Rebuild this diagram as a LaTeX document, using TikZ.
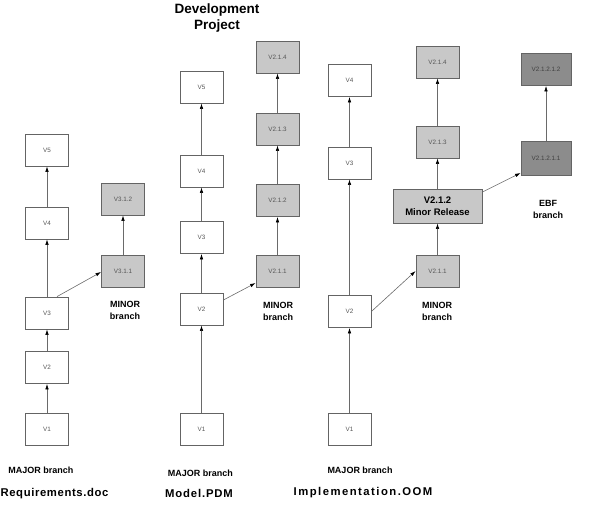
\documentclass[tikz,border=0pt]{standalone}
\usepackage{fontspec}
\setmainfont{Liberation Sans}
\newfontfamily\freq[LetterSpace=5.5]{Liberation Sans}
\newfontfamily\fmodel[LetterSpace=7.5]{Liberation Sans}
\newfontfamily\fimpl[LetterSpace=13]{Liberation Sans}
\usetikzlibrary{arrows.meta}
\definecolor{boxline}{HTML}{646464}
\definecolor{boxtext}{HTML}{555555}
\definecolor{minorfill}{HTML}{C8C8C8}
\definecolor{ebffill}{HTML}{8C8C8C}
\definecolor{linecol}{HTML}{6A6A6A}
\tikzset{
  box/.style={draw=boxline, line width=0.8pt, fill=white, minimum width=43pt, minimum height=32pt, inner sep=0pt, font=\fontsize{6.3}{7}\selectfont, text=boxtext},
  minorbox/.style={box, fill=minorfill},
  ebfbox/.style={box, fill=ebffill, minimum width=50pt, text=black!75},
  relbox/.style={box, fill=minorfill, minimum width=89pt, minimum height=34pt, font=\bfseries\fontsize{9.5}{12.5}\selectfont, text=black, align=center},
  conn/.style={draw=linecol, line width=0.6pt, -{Latex[length=5.5pt,width=3.5pt,color=black]}},
  blabel/.style={font=\bfseries\fontsize{9}{12}\selectfont, align=center, inner sep=0pt},
  flabel/.style={font=\bfseries\fontsize{11.3}{13}\selectfont, inner sep=0pt},
}
\begin{document}
\begin{tikzpicture}[x=1pt,y=-1pt]
\useasboundingbox (0,0) rectangle (591,512);
% title
\node[font=\bfseries\fontsize{13.5}{16}\selectfont, align=center, inner sep=0pt] (title) at (217,18.5) {Development\\Project};
% column 1
\node[box] (a1) at (47,429.5) {V1};
\node[box] (a2) at (47,367.5) {V2};
\node[box] (a3) at (47,313) {V3};
\node[box] (a4) at (47,223) {V4};
\node[box] (a5) at (47,150) {V5};
\node[minorbox] (a31) at (123,271) {V3.1.1};
\node[minorbox] (a32) at (123,199) {V3.1.2};
\draw[conn] (a1) -- (a2);
\draw[conn] (a2) -- (a3);
\draw[conn] (a3) -- (a4);
\draw[conn] (a4) -- (a5);
\draw[conn] ([xshift=10pt]a3.north) -- ([yshift=-1pt]a31.west);
\draw[conn] (a31) -- (a32);
\node[blabel] (amin) at (125,310.5) {MINOR\\branch};
\node[blabel] (amaj) at (41,470) {MAJOR branch};
\node[flabel] (afile) at (54.5,494) {\freq\bfseries Requirements.doc};
% column 2
\node[box] (b1) at (201.5,429) {V1};
\node[box] (b2) at (201.5,309) {V2};
\node[box] (b3) at (201.5,237.5) {V3};
\node[box] (b4) at (201.5,171) {V4};
\node[box] (b5) at (201.5,87) {V5};
\node[minorbox] (b11) at (277.5,271) {V2.1.1};
\node[minorbox] (b12) at (277.5,200.5) {V2.1.2};
\node[minorbox] (b13) at (277.5,129) {V2.1.3};
\node[minorbox] (b14) at (277.5,57) {V2.1.4};
\draw[conn] (b1) -- (b2);
\draw[conn] (b2) -- (b3);
\draw[conn] (b3) -- (b4);
\draw[conn] (b4) -- (b5);
\draw[conn] ([yshift=9pt]b2.east) -- ([yshift=-12pt]b11.west);
\draw[conn] (b11) -- (b12);
\draw[conn] (b12) -- (b13);
\draw[conn] (b13) -- (b14);
\node[blabel] (bmin) at (278,311) {MINOR\\branch};
\node[blabel] (bmaj) at (200.5,473) {MAJOR branch};
\node[flabel] (bfile) at (199,493) {\fmodel\bfseries Model.PDM};
% column 3
\node[box] (c1) at (349.5,429) {V1};
\node[box] (c2) at (349.5,311.5) {V2};
\node[box] (c3) at (349.5,163) {V3};
\node[box] (c4) at (349.5,80.5) {V4};
\node[minorbox] (c11) at (437.5,271) {V2.1.1};
\node[relbox] (c12) at (437.5,206) {V2.1.2\\Minor Release};
\node[minorbox] (c13) at (437.5,142) {V2.1.3};
\node[minorbox] (c14) at (437.5,62) {V2.1.4};
\draw[conn] (c1) -- (c2);
\draw[conn] (c2) -- (c3);
\draw[conn] (c3) -- (c4);
\draw[conn] (c2.east) -- (c11.west);
\draw[conn] (c11) -- (c12);
\draw[conn] (c12) -- (c13);
\draw[conn] (c13) -- (c14);
\node[blabel] (cmin) at (437,311) {MINOR\\branch};
\node[blabel] (cmaj) at (360,470) {MAJOR branch};
\node[flabel] (cfile) at (363,493) {\fimpl\bfseries Implementation.OOM};
% EBF column
\node[ebfbox, minimum height=34pt] (d1) at (546,158) {V2.1.2.1.1};
\node[ebfbox] (d2) at (546,69.5) {V2.1.2.1.2};
\draw[conn] ([yshift=14pt]c12.east) -- ([yshift=-15pt]d1.west);
\draw[conn] (d1) -- (d2);
\node[blabel] (dlab) at (548,209.5) {EBF\\branch};
\end{tikzpicture}
\end{document}
